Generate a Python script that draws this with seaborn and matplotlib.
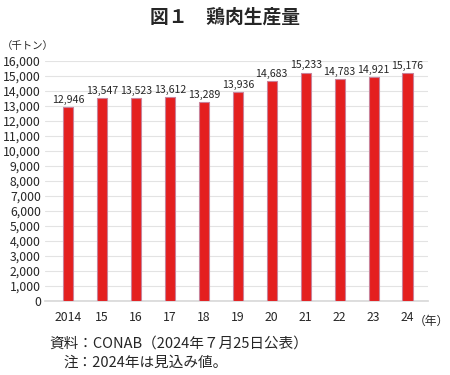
import matplotlib
matplotlib.use("Agg")
import matplotlib.pyplot as plt
import seaborn as sns
import pandas as pd

# data
years = ["2014", "15", "16", "17", "18", "19", "20", "21", "22", "23", "24"]
production = [12946, 13547, 13523, 13612, 13289, 13936, 14683, 15233, 14783, 14921, 15176]

sns.set_theme(style="white")
plt.rcParams["font.family"] = ["Noto Sans CJK JP", "DejaVu Sans"]

df = pd.DataFrame({"year": years, "value": production})

fig = plt.figure(figsize=(4.5, 3.75), dpi=100)
ax = fig.add_axes([0.1, 0.197, 0.851, 0.64])

sns.barplot(data=df, x="year", y="value", color="#e41f1f", width=0.3,
            edgecolor="#c9829a", linewidth=0.8, saturation=1, ax=ax, zorder=3)

ax.set_ylim(0, 16000)
ax.set_xlim(-0.68, 10.6)
ax.set_yticks(range(0, 16001, 1000))
ax.set_yticklabels([f"{v:,}" for v in range(0, 16001, 1000)], fontsize=8.8)
ax.yaxis.grid(True, color="#e3e3e3", linewidth=0.8, zorder=0)
ax.tick_params(axis="both", length=0, pad=3)
ax.tick_params(axis="x", labelsize=8.8, pad=7)
for s in ax.spines.values():
    s.set_visible(False)
ax.spines["bottom"].set_visible(True)
ax.spines["bottom"].set_color("#d9d9d9")
ax.set_xlabel("")
ax.set_ylabel("")

for i, v in enumerate(production):
    ax.text(i, v + 150, f"{v:,}", ha="center", va="bottom", fontsize=7.6)

fig.text(0.5, 0.955, "図１　鶏肉生産量", ha="center", va="center",
         fontsize=13.5, fontweight="bold")
fig.text(0.005, 0.878, "（千トン）", ha="left", va="center", fontsize=7.5)
fig.text(0.998, 0.142, "（年）", ha="right", va="center", fontsize=8.5)
fig.text(0.11, 0.085, "資料：CONAB（2024年７月25日公表）", ha="left", va="center", fontsize=10.5)
fig.text(0.14, 0.033, "注：2024年は見込み値。", ha="left", va="center", fontsize=10.5)

fig.savefig("out.png", dpi=100)
